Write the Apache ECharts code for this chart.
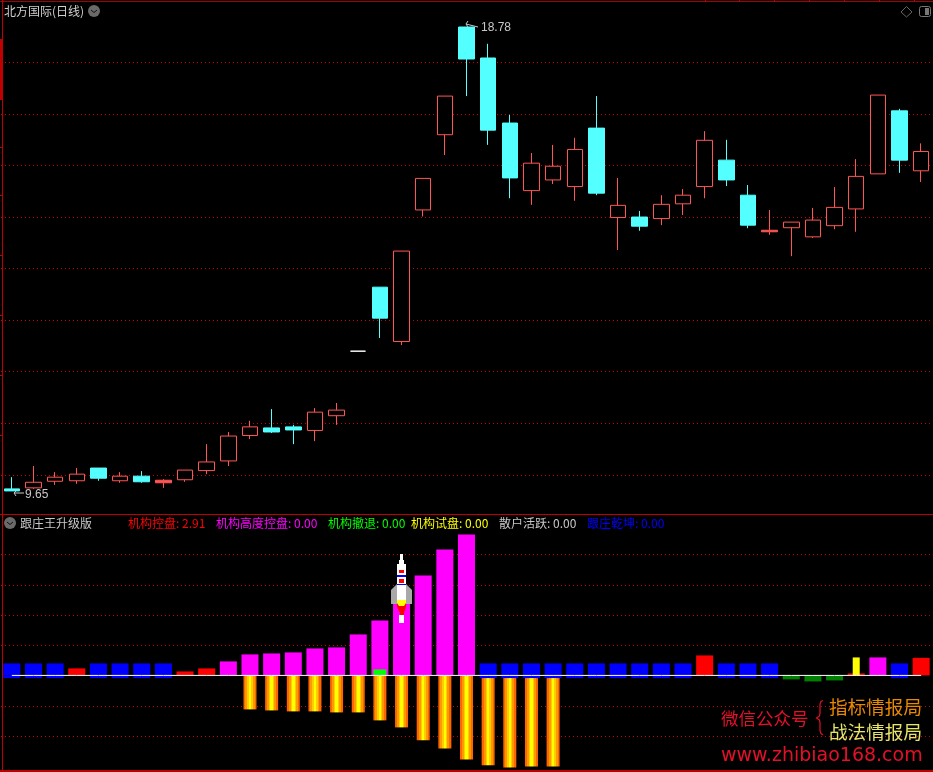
<!DOCTYPE html>
<html><head><meta charset="utf-8">
<style>html,body{margin:0;padding:0;background:#000}#c{width:933px;height:772px}</style>
<script src="https://cdn.jsdelivr.net/npm/echarts@6/dist/echarts.min.js"></script>
</head><body><div id="c"></div>
<script>
const _ = null;
const days = Array.from({length:43},(v,i)=>'D'+(i+1));
// [open, close, low, high]
const candles = [
[9.69,9.65,9.65,9.92],[9.71,9.82,9.69,10.14],[9.84,9.92,9.77,10.02],[9.85,9.98,9.79,10.10],[10.10,9.90,9.85,10.10],
[9.85,9.94,9.81,10.02],[9.94,9.83,9.81,10.04],[9.81,9.86,9.71,9.88],[9.87,10.06,9.83,10.06],[10.05,10.22,9.98,10.57],
[10.24,10.73,10.14,10.81],[10.74,10.91,10.67,11.03],[10.89,10.81,10.79,11.26],[10.91,10.85,10.57,10.95],[10.84,11.20,10.63,11.28],
[11.13,11.24,10.95,11.38],[12.40,12.40,12.40,12.40],[13.66,13.05,12.66,13.66],[12.59,14.37,12.52,14.37],[15.18,15.80,15.05,15.80],
[16.66,17.42,16.26,17.42],[18.78,18.15,17.42,18.78],[18.17,16.75,16.46,18.45],[16.89,15.81,15.41,17.05],[15.56,16.10,15.28,16.30],
[15.77,16.04,15.69,16.46],[15.64,16.37,15.36,16.60],[16.79,15.51,15.47,17.42],[15.03,15.27,14.39,15.81],[15.04,14.86,14.77,15.16],
[15.01,15.29,14.88,15.47],[15.30,15.47,15.08,15.59],[15.64,16.55,15.41,16.73],[16.16,15.77,15.65,16.56],[15.47,14.88,14.82,15.67],
[14.75,14.78,14.69,15.18],[14.83,14.94,14.27,14.94],[14.65,14.98,14.63,15.22],[14.87,15.23,14.80,15.63],[15.20,15.84,14.75,16.18],
[15.89,17.44,15.89,17.44],[17.13,16.16,15.91,17.17],[15.95,16.33,15.73,16.49]
];
const priceLevels = [18.081,17.058,16.054,15.031,14.027,13.004,12.000,10.976,9.953];
const indicatorLevels = [20.03,14.90,9.93,4.96,-5.14,-10.10];
const blueHigh = [1.99,1.99,1.99,_,1.99,1.99,1.99,1.99,_,_,_,_,_,_,_,_,_,_,_,_,_,_,1.99,1.99,1.99,1.99,1.99,1.99,1.99,1.99,1.99,1.99,_,1.99,1.99,1.99,_,_,_,_,_,1.99,_];
const blueLow = [-0.44,-0.44,-0.44,_,-0.44,-0.44,-0.44,-0.44,_,_,_,_,_,_,_,_,_,_,_,_,_,_,-0.44,-0.44,-0.44,-0.44,-0.44,-0.44,-0.44,-0.44,-0.44,-0.44,_,-0.44,-0.44,-0.44,_,_,_,_,_,-0.44,_];
const redBars = [_,_,_,1.16,_,_,_,_,0.66,1.16,_,_,_,_,_,_,_,_,_,_,_,_,_,_,_,_,_,_,_,_,_,_,3.31,_,_,_,_,_,_,0.33,_,_,2.91];
const magentaBars = [_,_,_,_,_,_,_,_,_,_,2.32,3.48,3.64,3.81,4.47,4.64,6.79,9.11,12.4,16.56,20.87,23.35,_,_,_,_,_,_,_,_,_,_,_,_,_,_,_,_,_,_,2.98,_,_];
const darkGreenBars = [_,_,_,_,_,_,_,_,_,_,_,_,_,_,_,_,_,_,_,_,_,_,_,_,_,_,_,_,_,_,_,_,_,_,_,_,-0.66,-0.99,-0.83,_,_,_,_];
const orangeBars = [_,_,_,_,_,_,_,_,_,_,_,-5.63,-5.80,-5.96,-5.96,-6.13,-6.13,-7.45,-8.61,-10.76,-12.09,-13.91,-14.90,-15.24,-15.07,-15.07,_,_,_,_,_,_,_,_,_,_,_,_,_,_,_,_,_];
const limeBars = [_,_,_,_,_,_,_,_,_,_,_,_,_,_,_,_,_,0.99,_,_,_,_,_,_,_,_,_,_,_,_,_,_,_,_,_,_,_,_,_,_,_,_,_];
const yellowBars = [_,_,_,_,_,_,_,_,_,_,_,_,_,_,_,_,_,_,_,_,_,_,_,_,_,_,_,_,_,_,_,_,_,_,_,_,_,_,_,2.98,_,_,_];
const zeroLine = days.map(()=>0);
const rocketDay = 18;
const indicatorNames = ['机构控盘','机构高度控盘','机构撤退','机构试盘','散户活跃','跟庄乾坤'];
const indicatorValues = ['2.91','0.00','0.00','0.00','0.00','0.00'];
const stockTitle = '北方国际(日线)';
const panelTitle = '跟庄王升级版';
const highLabel = '18.78', lowLabel = '9.65';

const RED='#ff5555', CYAN='#54ffff', GRID='#d00000', FRAME='#c00000', CJK='"Noto Sans CJK SC","Noto Sans",sans-serif';
const legendX=[128,216,328,411,499,587], legendC=['#ff0000','#ff00ff','#00ff00','#ffff00','#c8c8c8','#0000ff'];

const candleData = candles.map(c=>{
  if(c[0]===c[1]) return {value:c,itemStyle:{color:'#fff',borderColor:'#fff',borderColorDoji:'#fff',borderWidth:1}};
  if(c[1]>c[0] && c[1]-c[0]<0.05) return {value:c,itemStyle:{color:RED}};
  return c;
});
const dotted = (levels,name)=>({silent:true,symbol:'none',z:1,animation:false,label:{show:false},emphasis:{disabled:true},
  lineStyle:{color:GRID,width:1,type:[1,3]},data:levels.map(v=>({yAxis:v}))});
const flame = new echarts.graphic.LinearGradient(0,0,1,0,[
 {offset:0,color:'#ff6600'},{offset:.15,color:'#ff6600'},{offset:.15,color:'#ff9900'},{offset:.3,color:'#ff9900'},{offset:.3,color:'#ffcc00'},{offset:.4,color:'#ffcc00'},{offset:.4,color:'#ffff00'},{offset:.6,color:'#ffff00'},{offset:.6,color:'#ffcc00'},{offset:.7,color:'#ffcc00'},{offset:.7,color:'#ff9900'},{offset:.85,color:'#ff9900'},{offset:.85,color:'#ff6600'},{offset:1,color:'#ff6600'}]);
const cat=(g)=>({type:'category',gridIndex:g,data:days,show:false,boundaryGap:true});
const bar=(name,data,color,xi,w,z)=>({name,type:'bar',xAxisIndex:xi,yAxisIndex:1,data,barWidth:w,barGap:'-100%',itemStyle:{color},z:z||3,silent:true,animation:false});

function rocket(params,api){
  const p=api.coord([api.value(0),api.value(1)]);
  const r=(x,y,w,h,fill)=>({type:'rect',shape:{x:x,y:y,width:w,height:h},style:{fill}});
  const poly=(pts,fill)=>({type:'polygon',shape:{points:pts},style:{fill}});
  return {type:'group',x:Math.floor(p[0]),y:Math.round(p[1]),children:[
    poly([[-10,-71],[-10,-85],[-4,-91],[5,-91],[11,-85],[11,-71]],'#a8a8a8'),
    r(-1,-121,3,6,'#fff'), r(-2,-115,5,4,'#fff'), r(-4,-111,9,40,'#fff'),
    r(-2,-105,5,3,'#ff0000'), r(-4,-100,9,2,'#0000ff'), r(-2,-96,5,4,'#ff0000'), r(-4,-91,9,1,'#0000ff'),
    r(-2,-60,5,8,'#fff'),
    poly([[-4,-72],[5,-72],[5,-68],[3,-62],[3,-60],[-1,-60],[-1,-62],[-4,-68]],'#ff0000'),
    poly([[-4,-75],[5,-75],[5,-72],[3,-69],[-2,-69],[-4,-72]],'#ffff00')
  ]};
}

const texts=[];
const T=(x,y,text,fill,size,extra)=>Object.assign({type:'text',x,y,silent:true,z:50,style:Object.assign({text,fill,font:size+'px '+CJK,textVerticalAlign:'middle'},extra||{})},{});
texts.push(T(4,11,stockTitle,'#d0d0d0',12));
texts.push(T(20,523,panelTitle,'#c8c8c8',12));
indicatorNames.forEach((n,i)=>texts.push(T(legendX[i],523,n+': '+indicatorValues[i],legendC[i],12)));
texts.push(T(481,28,highLabel,'#c8c8c8',12,{font:'12px "Liberation Sans"'}));
texts.push(T(25,495,lowLabel,'#c8c8c8',12,{font:'12px "Liberation Sans"'}));
texts.push(T(721,718,'微信公众号','#e4102a',17.5));
texts.push(T(829,707,'指标情报局','#e88a00',18.6));
texts.push(T(829,732,'战法情报局','#e6e46a',18.6));
texts.push(T(721,756,'www.zhibiao168.com','#e4102a',19,{font:'19px "DejaVu Sans"'}));
const L=(x1,y1,x2,y2,c,w)=>({type:'line',silent:true,z:60,shape:{x1,y1,x2,y2},style:{stroke:c,lineWidth:w||1}});
const R=(x,y,w,h,c)=>({type:'rect',silent:true,z:60,shape:{x,y,width:w,height:h},style:{fill:c}});
const deco=[
 R(0,1,933,1,'#a80000'),R(0,514,933,1,FRAME),R(0,770,933,2,FRAME),R(2,0,1,772,FRAME),R(0,39,3,61,FRAME),
 ...[147,195,255,315,375,435].map(y=>R(0,y,3,1,FRAME)),
 ...[705,739,774,809,844,879,914].map(x=>R(x,0,1,2,FRAME)),
 {type:'polyline',silent:true,z:55,shape:{points:[[823,700.5],[821,701.5],[820,704],[820,713],[819.5,716],[816.5,718],[819.5,720],[820,723],[820,731],[821,733.5],[823,735]]},style:{stroke:'#e4102a',fill:'none',lineWidth:1.2}},
 {type:'circle',silent:true,z:55,shape:{cx:94,cy:11,r:6},style:{fill:'#6a6a6a'}},
 {type:'polyline',silent:true,z:56,shape:{points:[[91,10],[94,12.5],[97,10]]},style:{stroke:'#111',fill:'none',lineWidth:1}},
 {type:'circle',silent:true,z:55,shape:{cx:10,cy:523,r:6},style:{fill:'#6a6a6a'}},
 {type:'polyline',silent:true,z:56,shape:{points:[[7,522],[10,524.5],[13,522]]},style:{stroke:'#111',fill:'none',lineWidth:1}},
 {type:'polygon',silent:true,z:55,shape:{points:[[906.5,6.5],[912,12],[906.5,17],[901,12]]},style:{stroke:'#666',fill:'none',lineWidth:1}},
 {type:'rect',silent:true,z:55,shape:{x:919.5,y:6.5,width:11,height:10,r:2},style:{stroke:'#777',fill:'none',lineWidth:1}},
 R(925,8,4,7,'#777'),
 L(466,24,478,27,'#c8c8c8'),L(466,24,468,21,'#c8c8c8'),L(466,24,468,27,'#c8c8c8'),
 L(14,493,24,493,'#c8c8c8'),L(14,493,16,491,'#c8c8c8'),L(14,493,16,496,'#c8c8c8')
];

const chart=echarts.init(document.getElementById('c'),null,{renderer:'canvas',width:933,height:772});
chart.setOption({
 animation:false,backgroundColor:'#000',
 grid:[{left:1,right:1,top:5,height:507},{left:1,right:1,top:524.5,height:247.6}],
 xAxis:[cat(0),cat(1),cat(1),cat(1)],
 yAxis:[
  {type:'value',gridIndex:0,show:false,min:9.235,max:19.213,splitLine:{show:false}},
  {type:'value',gridIndex:1,show:false,min:-16,max:25,splitLine:{show:false}}
 ],
 series:[
  {name:'K',type:'candlestick',xAxisIndex:0,yAxisIndex:0,data:candleData,barWidth:16,z:2,silent:true,animation:false,
   itemStyle:{color:'#000',color0:CYAN,borderColor:RED,borderColor0:CYAN,borderWidth:1},
   markLine:dotted(priceLevels)},
  bar('主力',orangeBars,flame,2,13,2),
  Object.assign(bar('机构高度控盘',magentaBars,'#ff00ff',1,17),{markLine:dotted(indicatorLevels)}),
  bar('机构控盘',redBars,'#ff0000',1,17),
  bar('跟庄乾坤',blueHigh,'#0000ff',1,17),
  bar('跟庄乾坤下',blueLow,'#0000ff',1,17),
  bar('散户',darkGreenBars,'#008000',1,17),
  bar('机构撤退',limeBars,'#00ff00',2,13,4),
  bar('机构试盘',yellowBars,'#ffff00',3,7,4),
  {name:'零轴',type:'line',xAxisIndex:1,yAxisIndex:1,data:zeroLine,symbol:'none',silent:true,z:5,lineStyle:{color:'#fff',width:1},animation:false},
  {name:'火箭',type:'custom',xAxisIndex:1,yAxisIndex:1,data:[[rocketDay,0]],renderItem:rocket,silent:true,z:6,animation:false,encode:{x:0,y:1}}
 ],
 graphic:{elements:[...deco,...texts]}
});
</script></body></html>
